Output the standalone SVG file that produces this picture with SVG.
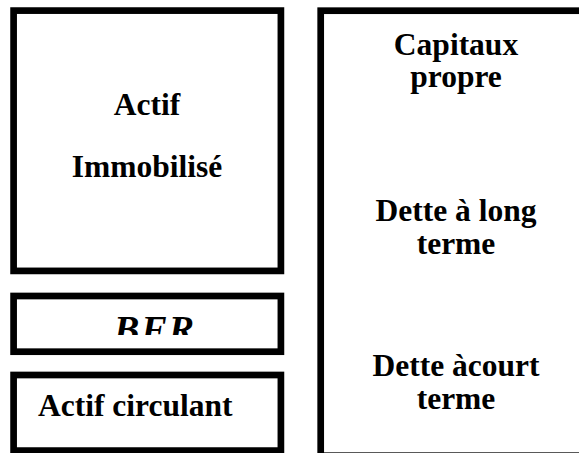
<svg xmlns="http://www.w3.org/2000/svg" width="579" height="453" viewBox="0 0 579 453">
<style>
.box{fill:#fff;stroke:#000;stroke-width:6.7}
text{font-family:'Liberation Serif','Times New Roman','DejaVu Serif',serif;font-weight:700;font-size:31.5px;fill:#000}
.c{text-anchor:middle}
</style>
<defs>
<clipPath id="bfrclip"><rect x="17" y="299" width="261" height="36"/></clipPath>
</defs>
<rect width="579" height="453" fill="#fff"/>
<g id="actif-immobilise">
<rect class="box" x="13.6" y="10.6" width="267.3" height="260.3"/>
<text class="c" x="147" y="115">Actif</text>
<text class="c" x="147" y="177">Immobilisé</text>
</g>
<g id="bfr">
<rect class="box" x="13.6" y="296" width="267.3" height="55.7"/>
<text class="c" x="155" y="342" font-style="italic" font-size="38" letter-spacing="2" style="font-size:38px" clip-path="url(#bfrclip)">BFR</text>
</g>
<g id="actif-circulant">
<rect class="box" x="13.6" y="375" width="267.3" height="75.6"/>
<text x="38" y="416">Actif circulant</text>
</g>
<g id="passif">
<rect class="box" x="320.7" y="10.7" width="300" height="445"/>
<text class="c" x="456" y="55">Capitaux</text>
<text class="c" x="456" y="87">propre</text>
<text class="c" x="456" y="221">Dette à long</text>
<text class="c" x="456" y="254">terme</text>
<text class="c" x="456" y="376">Dette àcourt</text>
<text class="c" x="456" y="409">terme</text>
</g>
<g id="connectors"></g>
</svg>
